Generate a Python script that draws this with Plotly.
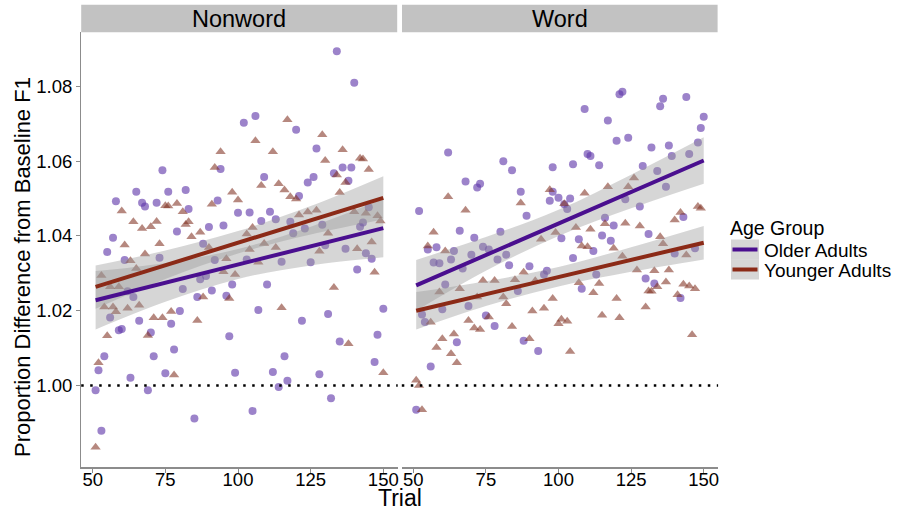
import plotly.graph_objects as go

# ---------------- data ----------------
nw_old_trial = [134,140,102,106,120,127,74,94,136,139,133,109,126,124,138,65,76,82,58,67,68,72,93,121,83,100,104,111,108,113,118,90,95,79,57,129,145,143,142,119,123,
                55,61,73,88,92,103,115,125,137,144,146,141,130,87,89,98,110,91,81,86,96,62,64,56,66,77,80,59,60,70,107,122,131,150,148,135,97,54,52,51,71,78,63,75,69,99,112,116,117,114,128,147,132,105,85,53]
nw_old_val = [1.0894,1.0810,1.0703,1.0721,1.0684,1.0634,1.0576,1.0579,1.0583,1.0583,1.0568,1.0558,1.0558,1.0543,1.0548,1.0518,1.0518,1.0523,1.0493,1.0489,1.0479,1.0489,1.0495,1.0507,1.0472,1.0462,1.0463,1.0465,1.0440,1.0445,1.0438,1.0424,1.0428,1.0412,1.0395,1.0430,1.0477,1.0436,1.0425,1.0407,1.0420,
              1.0357,1.0336,1.0342,1.0379,1.0336,1.0337,1.0331,1.0330,1.0366,1.0354,1.0339,1.0310,1.0375,1.0284,1.0293,1.0270,1.0270,1.0254,1.0258,1.0237,1.0240,1.0252,1.0237,1.0182,1.0173,1.0165,1.0199,1.0148,1.0151,1.0142,1.0202,1.0173,1.0191,1.0205,1.0136,1.0118,1.0132,1.0078,1.0041,0.9987,1.0078,1.0096,1.0021,1.0033,0.9987,1.0034,1.0036,1.0078,1.0013,0.9996,1.0030,1.0063,0.9966,0.9932,0.9912,0.9879]

nw_young_trial = [117,106,94,112,129,136,130,142,143,145,92,134,137,98,108,114,116,118,120,100,91,135,60,75,76,79,81,64,72,67,70,83,82,87,105,121,124,127,140,144,148,149,131,84,
                  53,56,59,54,57,58,62,66,61,63,68,65,73,71,74,77,55,69,52,78,51,86,88,97,95,99,90,96,104,107,109,113,103,115,133,138,128,141,146,147,150]
nw_young_val = [1.0711,1.0655,1.0625,1.0625,1.0671,1.0631,1.0602,1.0608,1.0606,1.0578,1.0583,1.0563,1.0543,1.0517,1.0535,1.0540,1.0523,1.0505,1.0499,1.0496,1.0485,1.0516,1.0467,1.0481,1.0480,1.0487,1.0465,1.0438,1.0439,1.0420,1.0425,1.0438,1.0431,1.0410,1.0423,1.0456,1.0464,1.0469,1.0465,1.0461,1.0454,1.0440,1.0407,1.0398,
                1.0294,1.0264,1.0264,1.0210,1.0210,1.0197,1.0207,1.0215,1.0376,1.0334,1.0352,1.0313,1.0379,1.0181,1.0181,1.0198,1.0133,1.0134,1.0061,1.0028,0.9835,1.0174,1.0237,1.0233,1.0304,1.0297,1.0369,1.0339,1.0364,1.0330,1.0380,1.0369,1.0405,1.0208,1.0262,1.0112,1.0359,1.0366,1.0384,1.0303,1.0034]

w_old_trial = [122,121,109,136,135,144,150,149,117,120,124,148,132,138,139,145,62,81,84,98,105,110,111,114,129,134,68,73,72,137,87,98,100,104,97,103,102,123,128,52,89,116,119,143,66,80,71,131,115,
               55,58,57,59,64,63,70,74,67,76,79,82,83,90,96,95,61,60,69,53,54,75,78,65,88,93,56,51,101,107,105,112,108,113,118,130,133,140,147,142,86]
w_old_val = [1.0786,1.0779,1.0740,1.0767,1.0747,1.0772,1.0719,1.0689,1.0709,1.0655,1.0663,1.0650,1.0637,1.0642,1.0614,1.0619,1.0623,1.0600,1.0576,1.0584,1.0592,1.0619,1.0614,1.0589,1.0587,1.0574,1.0546,1.0540,1.0530,1.0532,1.0518,1.0518,1.0502,1.0500,1.0494,1.0472,1.0485,1.0498,1.0479,1.0467,1.0454,1.0449,1.0428,1.0451,1.0414,1.0411,1.0395,1.0405,1.0401,
             1.0364,1.0370,1.0329,1.0327,1.0360,1.0337,1.0350,1.0371,1.0313,1.0364,1.0337,1.0350,1.0322,1.0319,1.0307,1.0297,1.0270,1.0204,1.0213,1.0190,1.0170,1.0187,1.0159,1.0116,1.0120,1.0092,1.0051,0.9935,1.0394,1.0391,1.0341,1.0360,1.0259,1.0297,1.0387,1.0286,1.0273,1.0353,1.0367,1.0234,1.0253]

w_young_trial = [62,68,57,87,97,102,109,117,124,126,148,149,140,142,106,111,116,123,128,135,99,
                 55,61,59,66,74,78,72,81,82,85,88,92,94,91,95,98,100,101,103,104,69,71,73,76,84,90,60,64,58,63,65,56,51,52,53,
                 107,112,114,115,120,121,108,110,119,122,127,133,138,137,134,131,132,130,141,143,145,147,146,136,144]
w_young_val = [1.0505,1.0469,1.0410,1.0488,1.0524,1.0486,1.0514,1.0532,1.0532,1.0555,1.0479,1.0474,1.0443,1.0463,1.0423,1.0418,1.0433,1.0434,1.0427,1.0398,1.0409,
               1.0373,1.0360,1.0250,1.0259,1.0281,1.0281,1.0237,1.0237,1.0219,1.0283,1.0303,1.0280,1.0391,1.0199,1.0207,1.0233,1.0165,1.0177,1.0172,1.0091,1.0174,1.0154,1.0150,1.0183,1.0158,1.0125,1.0125,1.0138,1.0102,1.0085,1.0061,1.0169,1.0014,1.0000,0.9935,
               1.0275,1.0248,1.0273,1.0188,1.0233,1.0181,1.0373,1.0371,1.0367,1.0346,1.0309,1.0307,1.0309,1.0277,1.0264,1.0253,1.0252,1.0210,1.0243,1.0271,1.0266,1.0259,1.0136,1.0379,1.0349]

# fitted lines (read endpoints) and confidence band bounds (read)
fit_trial = [51, 150]
nw_old_fit = [1.0228, 1.0421]
nw_young_fit = [1.0264, 1.0502]
w_old_fit = [1.0268, 1.0602]
w_young_fit = [1.0200, 1.0382]

band_trial = [51, 75, 100, 125, 150]
nw_old_lo = [1.0150, 1.0224, 1.0285, 1.0321, 1.0343]
nw_old_hi = [1.0306, 1.0328, 1.0365, 1.0425, 1.0499]
nw_young_lo = [1.0205, 1.0285, 1.0353, 1.0404, 1.0444]
nw_young_hi = [1.0321, 1.0361, 1.0413, 1.0480, 1.0560]
w_old_lo = [1.0200, 1.0307, 1.0400, 1.0474, 1.0540]
w_old_hi = [1.0336, 1.0397, 1.0470, 1.0564, 1.0664]
w_young_lo = [1.0150, 1.0213, 1.0265, 1.0304, 1.0337]
w_young_hi = [1.0250, 1.0279, 1.0317, 1.0370, 1.0427]

panels = ["Nonword", "Word"]
groups = ["Older Adults", "Younger Adults"]
legend_title = "Age Group"
x_ticks = [50, 75, 100, 125, 150]
y_ticks = [1.00, 1.02, 1.04, 1.06, 1.08]

# ---------------- style ----------------
W, H = 903, 511
FONT = "Liberation Sans, Arial, sans-serif"
old_pt = "rgba(95,55,170,0.62)"
young_pt = "rgba(130,50,35,0.58)"
old_line = "#4a0f8f"
young_line = "#8b2a17"
line_cols = [old_line, young_line]
band_col = "rgba(153,153,153,0.4)"

def px(v):
    return v / W

def py(v):
    return 1 - v / H

fig = go.Figure()

data = {
    "Nonword": dict(old=(nw_old_trial, nw_old_val), young=(nw_young_trial, nw_young_val),
                    old_fit=nw_old_fit, young_fit=nw_young_fit,
                    old_band=(nw_old_lo, nw_old_hi), young_band=(nw_young_lo, nw_young_hi)),
    "Word": dict(old=(w_old_trial, w_old_val), young=(w_young_trial, w_young_val),
                 old_fit=w_old_fit, young_fit=w_young_fit,
                 old_band=(w_old_lo, w_old_hi), young_band=(w_young_lo, w_young_hi)),
}

for i, p in enumerate(panels):
    xa = "x" if i == 0 else "x2"
    ya = "y" if i == 0 else "y2"
    d = data[p]
    fig.add_trace(go.Scatter(x=d["old"][0], y=d["old"][1], mode="markers", xaxis=xa, yaxis=ya,
                             marker=dict(symbol="circle", size=8, color=old_pt, line=dict(width=0)),
                             showlegend=False, hoverinfo="skip"))
    fig.add_trace(go.Scatter(x=d["young"][0], y=d["young"][1], mode="markers", xaxis=xa, yaxis=ya,
                             marker=dict(symbol="triangle-up", size=9, color=young_pt, line=dict(width=0)),
                             showlegend=False, hoverinfo="skip"))
    for key in ["old_band", "young_band"]:
        lo, hi = d[key]
        fig.add_trace(go.Scatter(x=band_trial, y=lo, mode="lines", xaxis=xa, yaxis=ya,
                                 line=dict(width=0, shape="spline"), showlegend=False, hoverinfo="skip"))
        fig.add_trace(go.Scatter(x=band_trial, y=hi, mode="lines", xaxis=xa, yaxis=ya, fill="tonexty",
                                 fillcolor=band_col, line=dict(width=0, shape="spline"),
                                 showlegend=False, hoverinfo="skip"))
    fig.add_trace(go.Scatter(x=fit_trial, y=d["old_fit"], mode="lines", xaxis=xa, yaxis=ya,
                             line=dict(color=old_line, width=4), name=groups[0],
                             showlegend=False, hoverinfo="skip"))
    fig.add_trace(go.Scatter(x=fit_trial, y=d["young_fit"], mode="lines", xaxis=xa, yaxis=ya,
                             line=dict(color=young_line, width=4), name=groups[1],
                             showlegend=False, hoverinfo="skip"))

xr = [46.05, 154.95]
yr = [0.9782, 1.0947]
ydom = [py(467), py(31.5)]
tick_font = dict(family=FONT, size=18.5, color="black")
axis_common = dict(range=xr, tickvals=x_ticks, ticks="outside", ticklen=4, tickcolor="#8c8c8c",
                   showline=True, linecolor="#8c8c8c", linewidth=2, showgrid=False, zeroline=False,
                   tickfont=tick_font, fixedrange=True, automargin=False, ticklabelstandoff=-9)
fig.update_layout(
    width=W, height=H, margin=dict(l=0, r=0, t=0, b=0, autoexpand=False),
    paper_bgcolor="white", plot_bgcolor="white",
    xaxis=dict(domain=[px(81.2), px(397.7)], anchor="y", **axis_common),
    xaxis2=dict(domain=[px(401.8), px(718.1)], anchor="y2", **axis_common),
    yaxis=dict(domain=ydom, range=yr, tickvals=y_ticks, tickformat=".2f", ticks="outside", ticklen=4,
               tickcolor="#8c8c8c", showline=True, linecolor="#8c8c8c", linewidth=1.2, showgrid=False,
               zeroline=False, tickfont=tick_font, anchor="x", automargin=False, fixedrange=True),
    yaxis2=dict(domain=ydom, range=yr, showticklabels=False, ticks="", showline=False, showgrid=False,
                zeroline=False, anchor="x2", automargin=False, fixedrange=True),
    showlegend=False,
)

shapes = []
annotations = []
strip_x = [(81.2, 397.2), (402.0, 717.6)]
for i, p in enumerate(panels):
    x0, x1 = strip_x[i]
    shapes.append(dict(type="rect", xref="paper", yref="paper", x0=px(x0), x1=px(x1), y0=py(32.3), y1=py(4.7),
                       fillcolor="#c2c2c2", line=dict(width=0), layer="below"))
    annotations.append(dict(text=p, xref="paper", yref="paper", x=px((x0 + x1) / 2), y=py(19),
                            showarrow=False, font=dict(family=FONT, size=23.5, color="black"),
                            xanchor="center", yanchor="middle"))
    xa = "x" if i == 0 else "x2"
    ya = "y" if i == 0 else "y2"
    shapes.append(dict(type="line", xref=xa + " domain", yref=ya, x0=0, x1=1, y0=1.0, y1=1.0,
                       line=dict(color="black", width=2.5, dash="2.5px,6.5px"), layer="above"))

# legend (ggplot style: grey key boxes with coloured lines)
annotations.append(dict(text=legend_title, xref="paper", yref="paper", x=px(728), y=py(228), showarrow=False,
                        font=dict(family=FONT, size=19.5, color="black"), xanchor="left", yanchor="middle"))
key_y = [249.5, 269.5]
for k, g in enumerate(groups):
    shapes.append(dict(type="rect", xref="paper", yref="paper", x0=px(731), x1=px(759),
                       y0=py(key_y[k] + 10), y1=py(key_y[k] - 10), fillcolor=band_col, line=dict(width=0)))
    shapes.append(dict(type="line", xref="paper", yref="paper", x0=px(732.5), x1=px(757.5),
                       y0=py(key_y[k]), y1=py(key_y[k]), line=dict(color=line_cols[k], width=4)))
    annotations.append(dict(text=g, xref="paper", yref="paper", x=px(762), y=py(key_y[k] + 0.5), showarrow=False,
                            font=dict(family=FONT, size=19, color="black"), xanchor="left", yanchor="middle"))

annotations.append(dict(text="Trial", xref="paper", yref="paper", x=px(400), y=py(498), showarrow=False,
                        font=dict(family=FONT, size=23, color="black"), xanchor="center", yanchor="middle"))
annotations.append(dict(text="Proportion Difference from Baseline F1", xref="paper", yref="paper",
                        x=px(22), y=py(267), showarrow=False, textangle=-90,
                        font=dict(family=FONT, size=22, color="black"), xanchor="center", yanchor="middle"))
fig.update_layout(shapes=shapes, annotations=annotations)

fig.write_html("out.html", config={"displayModeBar": False, "staticPlot": True},
               post_script="document.body.style.margin='0';document.body.style.padding='0';"
                           "document.documentElement.style.overflow='hidden';")
